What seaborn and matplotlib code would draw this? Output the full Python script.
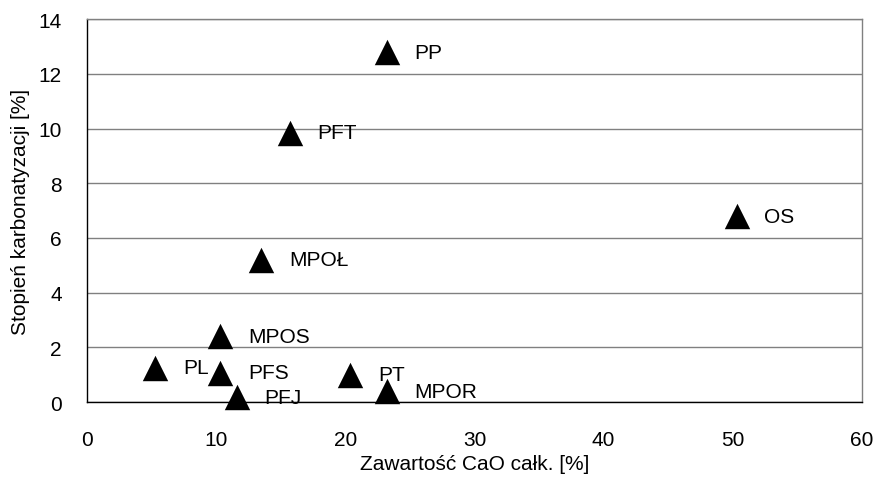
# Scatter of carbonation degree vs total CaO content, each point labelled with its sample code

import pandas as pd
from matplotlib import pyplot as plt
import seaborn as sb

# Values
samples = ['PP', 'PFT', 'OS', 'MPOŁ', 'MPOS', 'PL', 'PFS', 'PT', 'MPOR', 'PFJ']
cao = [23.2, 15.7, 50.3, 13.5, 10.3, 5.3, 10.3, 20.4, 23.2, 11.6]
carbonation = [12.8, 9.85, 6.8, 5.2, 2.4, 1.26, 1.07, 1.0, 0.4, 0.17]

data = pd.DataFrame({'sample': samples, 'cao': cao, 'carb': carbonation})

sb.set_style('white')
plt.rcParams['font.family'] = ['Liberation Sans', 'DejaVu Sans']
plt.rcParams['font.size'] = 15
plt.rcParams['text.color'] = 'black'
plt.rcParams['axes.labelcolor'] = 'black'
plt.rcParams['xtick.color'] = 'black'
plt.rcParams['ytick.color'] = 'black'

fig, ax = plt.subplots(figsize=(8.76, 4.81), dpi=100)
fig.subplots_adjust(left=0.0993, right=0.984, top=0.958, bottom=0.162)

# grey horizontal gridlines like the spreadsheet original
ax.set_axisbelow(True)
ax.yaxis.grid(True, color='#808080', linewidth=1)

sb.scatterplot(x='cao', y='carb', data=data, ax=ax, marker='^', s=335,
               color='black', edgecolor='black', linewidth=0, legend=False,
               clip_on=False, zorder=3)

# sample labels to the right of each marker
for name, xv, yv in zip(samples, cao, carbonation):
    ax.annotate(name, (xv, yv), xytext=(20, 0), textcoords='offset points',
                ha='left', va='center', fontsize=15, color='black')

ax.set_xlim(0, 60)
ax.set_ylim(0, 14)
ax.set_xticks(range(0, 61, 10))
ax.set_yticks(range(0, 15, 2))

for side in ['left', 'bottom']:
    ax.spines[side].set_color('black')
    ax.spines[side].set_linewidth(1)
for side in ['top', 'right']:
    ax.spines[side].set_color('#808080')
    ax.spines[side].set_linewidth(1)

ax.tick_params(axis='x', direction='out', length=6, width=1, color='#808080', pad=14)
ax.tick_params(axis='y', direction='out', length=6, width=1, color='#808080', pad=12)

plt.xlabel('Zawartość CaO całk. [%]', labelpad=4)
plt.ylabel('Stopień karbonatyzacji [%]', labelpad=6)

plt.savefig('out.png', dpi=100)
